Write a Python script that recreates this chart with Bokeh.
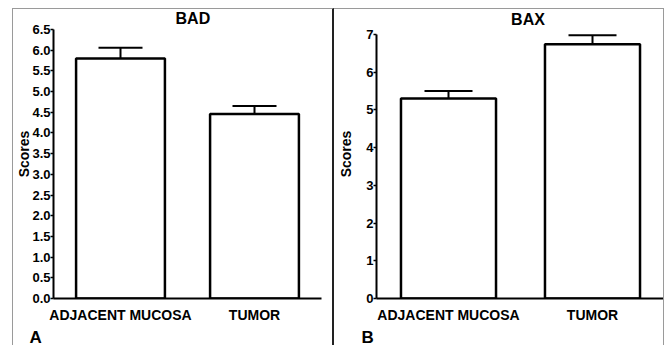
from bokeh.plotting import figure
from bokeh.models import (FactorRange, Range1d, FixedTicker, Whisker, TeeHead,
                          ColumnDataSource, Title, Label)
from bokeh.layouts import row
from bokeh.embed import file_html
from bokeh.resources import INLINE

# ---- data ----
categories = ["ADJACENT MUCOSA", "TUMOR"]
bad_values = [5.80, 4.46]
bad_upper = [6.06, 4.65]
bax_values = [5.30, 6.74]
bax_upper = [5.50, 6.98]
bad_ticks = [0.0, 0.5, 1.0, 1.5, 2.0, 2.5, 3.0, 3.5, 4.0, 4.5, 5.0, 5.5, 6.0, 6.5]
bad_tick_labels = ["0.0", "0.5", "1.0", "1.5", "2.0", "2.5", "3.0", "3.5",
                   "4.0", "4.5", "5.0", "5.5", "6.0", "6.5"]
bax_ticks = [0, 1, 2, 3, 4, 5, 6, 7]
bax_tick_labels = ["0", "1", "2", "3", "4", "5", "6", "7"]

FONT = "Liberation Sans"


def make_panel(title, letter, values, upper, ticks, tick_labels, ymax, yview,
               width, height, margin, styles,
               mb_left, mb_right, mb_bottom, bar_w, cap,
               title_xy, letter_offset, label_standoff):
    p = figure(width=width, height=height, output_backend="svg", toolbar_location=None,
               title_location=None,
               x_range=FactorRange(*categories, range_padding=0),
               y_range=Range1d(0, yview),
               min_border_left=mb_left, min_border_right=mb_right,
               min_border_top=0, min_border_bottom=mb_bottom,
               margin=margin, styles=styles)
    p.outline_line_color = None
    p.grid.grid_line_color = None
    p.background_fill_color = "white"
    p.border_fill_color = "white"

    src = ColumnDataSource(dict(cat=categories, val=values, up=upper))
    p.vbar(x="cat", top="val", bottom=0, width=bar_w, source=src,
           fill_color="white", line_color="black", line_width=2.5)
    w = Whisker(base="cat", upper="up", lower="val", source=src,
                line_color="black", line_width=2,
                upper_head=TeeHead(size=cap, line_color="black", line_width=2),
                lower_head=None)
    p.add_layout(w)

    ya = p.yaxis[0]
    ya.bounds = (0, ymax)
    ya.ticker = FixedTicker(ticks=ticks)
    ya.major_label_overrides = {t: l for t, l in zip(ticks, tick_labels)}
    ya.minor_tick_line_color = None
    ya.major_tick_in = 0
    ya.major_tick_out = 3
    ya.major_tick_line_width = 1.5
    ya.axis_line_width = 2
    ya.major_label_standoff = 0
    ya.major_label_text_font = FONT
    ya.major_label_text_font_style = "bold"
    ya.major_label_text_font_size = "13px"
    ya.major_label_text_color = "black"
    ya.axis_label = "Scores"
    ya.axis_label_text_font = FONT
    ya.axis_label_text_font_style = "bold"
    ya.axis_label_text_font_size = "14px"
    ya.axis_label_text_color = "black"
    ya.axis_label_standoff = label_standoff

    xa = p.xaxis[0]
    xa.major_tick_line_color = None
    xa.minor_tick_line_color = None
    xa.major_tick_out = 0
    xa.major_tick_in = 0
    xa.axis_line_width = 2
    xa.major_label_standoff = 8
    xa.major_label_text_font = FONT
    xa.major_label_text_font_style = "bold"
    xa.major_label_text_font_size = "14px"
    xa.major_label_text_color = "black"

    p.add_layout(Label(x=title_xy[0], y=title_xy[1], text=title,
                       text_font=FONT, text_font_style="bold", text_font_size="16px",
                       text_color="black", text_align="center", text_baseline="middle"))

    p.add_layout(Title(text=letter, align="left", offset=letter_offset, standoff=0,
                       text_font=FONT, text_font_style="bold", text_font_size="17px",
                       text_color="black"), "below")
    return p


left = make_panel("BAD", "A", bad_values, bad_upper, bad_ticks, bad_tick_labels,
                  6.5, 6.983,
                  width=322, height=337, margin=(8, 0, 0, 12),
                  styles={"border-left": "1px solid #9a9a9a",
                          "border-top": "1px solid #9a9a9a",
                          "border-right": "2px solid #222222"},
                  mb_left=40, mb_right=14, mb_bottom=47,
                  bar_w=0.663, cap=44, title_xy=(1.04, 6.766),
                  letter_offset=-24, label_standoff=-3)
right = make_panel("BAX", "B", bax_values, bax_upper, bax_ticks, bax_tick_labels,
                   7, 7.663,
                   width=330, height=337, margin=(8, 0, 0, 0),
                   styles={"border-top": "1px solid #9a9a9a",
                           "border-right": "1px solid #9a9a9a"},
                   mb_left=42, mb_right=0, mb_bottom=47,
                   bar_w=0.66, cap=48, title_xy=(1.052, 7.40),
                   letter_offset=-15, label_standoff=9)

layout = row(left, right)
open("out.html", "w").write(file_html(layout, INLINE))
